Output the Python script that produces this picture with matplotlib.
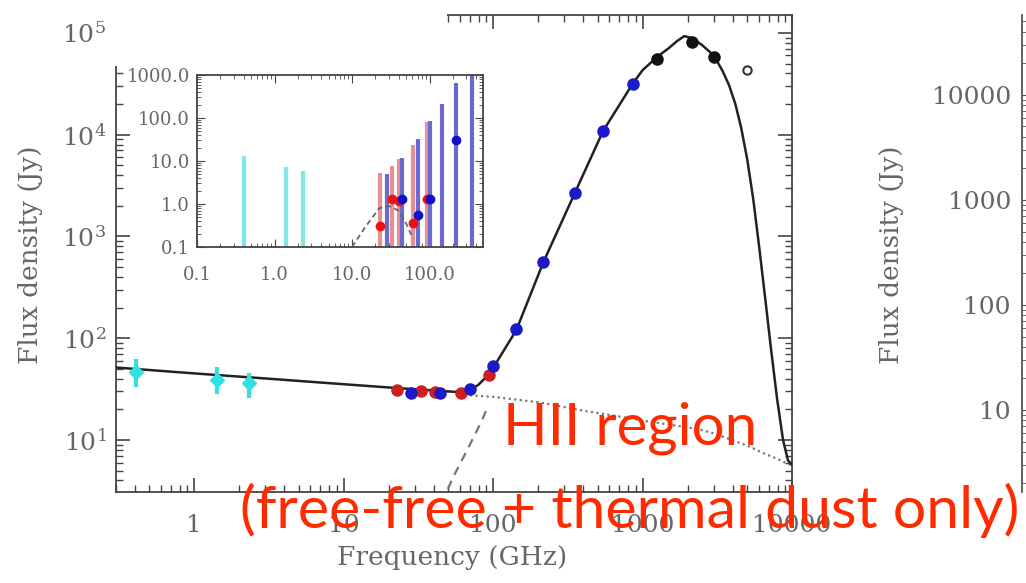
import matplotlib
matplotlib.use("Agg")
import matplotlib.pyplot as plt
from matplotlib.patches import Rectangle
from matplotlib.ticker import NullFormatter, LogLocator, FixedLocator, FixedFormatter

plt.rcParams['mathtext.fontset'] = 'dejavuserif'

# ---------------- data ----------------
# main panel: measured flux densities
cyan_freq = [0.408, 1.42, 2.326]
cyan_flux = [47, 39, 36]
cyan_err_lo = [14, 11, 10]
cyan_err_hi = [16, 13, 10]

wmap_freq = [22.8, 33.0, 40.6, 60.8, 93.5]
wmap_flux = [31.0, 30.6, 29.5, 28.8, 43.0]

planck_freq = [28.4, 44.1, 70.4, 100, 143, 217, 353, 545, 857]
planck_flux = [28.8, 28.8, 31.6, 53, 122, 558, 2690, 10900, 31500]

dirbe_freq = [1249, 2141, 2998]
dirbe_flux = [56000, 81000, 57600]

iras_freq = [4997]
iras_flux = [43500]

# main panel: model curves
model_freq = [0.3, 1, 3, 10, 20, 30, 45, 60, 70, 80, 93.5, 100, 143, 217, 353,
              545, 857, 1000, 1250, 1500, 1700, 1900, 2150, 2500, 3000, 3440,
              3800, 4170, 4570, 5010, 5500, 6030, 6610, 7240, 7940, 8710, 9400,
              10000]
model_flux = [51.5, 45.1, 40.2, 35.3, 32.8, 31.5, 30.3, 29.5, 30.5, 35, 44, 51,
              120, 558, 2690, 10900, 31500, 43000, 58000, 71000, 83000, 93000,
              89000, 76000, 60000, 42000, 30400, 20200, 11700, 5780, 2350, 790,
              250, 78, 25.6, 10.0, 6.3, 5.7]

ff_freq = [70, 100, 200, 437, 700, 1000, 2000, 2440, 3000, 5000, 6460, 8000, 10000]
ff_flux = [27.5, 26.5, 23.5, 19.0, 17.0, 15.5, 13.3, 12.6, 11.6, 8.8, 7.4, 6.5, 5.6]

dust_freq = [45, 49, 54, 70, 84.5, 93]
dust_flux = [2.4, 3.1, 4.3, 9.0, 15.7, 22]

# inset: residual-type bars
inset_cyan_freq = [0.408, 1.42, 2.326]
inset_cyan_top = [13.3, 7.1, 5.9]

inset_red_freq = [22.8, 33.0, 40.6, 60.8, 93.5]
inset_red_top = [5.4, 7.8, 11.0, 23.8, 80]
inset_red_pt = [0.30, 1.28, 1.20, 0.36, 1.28]

inset_blue_freq = [28.4, 44.1, 70.4, 100, 143, 217, 353]
inset_blue_top = [4.9, 11.5, 33, 83, 210, 650, 1200]
inset_blue_pt = [None, 1.28, 0.56, 1.28, None, 30, None]

inset_dash_freq = [10, 15, 22.5, 30, 40, 50, 60]
inset_dash_flux = [0.1, 0.3, 0.8, 0.9, 0.7, 0.35, 0.17]

main_xticks = [1, 10, 100, 1000, 10000]
main_xticklabels = ['1', '10', '100', '1000', '10000']
inset_xticks = [0.1, 1, 10, 100]
inset_xticklabels = ['0.1', '1.0', '10.0', '100.0']
inset_yticks = [0.1, 1, 10, 100, 1000]
inset_yticklabels = ['0.1', '1.0', '10.0', '100.0', '1000.0']
right_yticks = [10, 100, 1000, 10000]
right_yticklabels = ['10', '100', '1000', '10000']

# ---------------- figure ----------------
W, H = 1026, 583
fig = plt.figure(figsize=(W / 100, H / 100), dpi=100)


def box(l, t, r, b):
    return [l / W, 1 - b / H, (r - l) / W, (b - t) / H]


label_font = dict(family='DejaVu Serif', size=19, color='#666666')

# ---- main axes
ax = fig.add_axes(box(116, 15, 792, 492))
ax.set_xscale('log')
ax.set_yscale('log')
ax.set_xlim(0.3, 1e4)
ax.set_ylim(3.08, 1.5e5)
for s in ax.spines.values():
    s.set_color('#444444')
    s.set_linewidth(1.3)
ax.tick_params(which='both', direction='in', top=True, right=True, colors='#444444')
ax.tick_params(which='major', length=10, width=1.2, labelsize=18, labelcolor='#666666')
ax.tick_params(which='minor', length=5, width=1.0)
ax.tick_params(axis='x', which='major', pad=16)
ax.tick_params(axis='y', which='major', pad=7)
ax.xaxis.set_major_locator(FixedLocator(main_xticks))
ax.xaxis.set_major_formatter(FixedFormatter(main_xticklabels))
ax.xaxis.set_minor_formatter(NullFormatter())
ax.yaxis.set_major_locator(LogLocator(base=10, numticks=10))
ax.yaxis.set_minor_locator(LogLocator(base=10, subs=range(2, 10), numticks=10))
ax.yaxis.set_minor_formatter(NullFormatter())
for lab in ax.get_xticklabels() + ax.get_yticklabels():
    lab.set_family('DejaVu Serif')

ax.plot(model_freq, model_flux, color='#222222', lw=1.8, zorder=3)
ax.plot(ff_freq, ff_flux, color='#777777', lw=1.6, ls=(0, (1, 1.5)), zorder=2)
ax.plot(dust_freq, dust_flux, color='#777777', lw=1.6, ls=(0, (4, 3)), zorder=2)

ax.errorbar(cyan_freq, cyan_flux, yerr=[cyan_err_lo, cyan_err_hi], fmt='D',
            color='#33e0e0', ms=7, elinewidth=3, capsize=0, zorder=4)
ax.plot(wmap_freq, wmap_flux, 'o', color='#cc2020', ms=8, zorder=5)
ax.plot(planck_freq, planck_flux, 'o', color='#1a1ac8', ms=8, zorder=5)
ax.plot(dirbe_freq, dirbe_flux, 'o', color='#111111', ms=8, zorder=5)
ax.plot(iras_freq, iras_flux, 'o', mfc='none', mec='#333333', mew=1.5, ms=6, zorder=5)

fig.text(452 / W, 1 - 558 / H, 'Frequency (GHz)', ha='center', va='center', **label_font)
fig.text(31 / W, 1 - 255 / H, 'Flux density (Jy)', ha='center', va='center',
         rotation=90, **label_font)

# white cover over the top-left of the main panel
fig.patches.append(Rectangle((110 / W, 1 - 66 / H), (447 - 110) / W, 66 / H,
                             transform=fig.transFigure, facecolor='white',
                             edgecolor='none', zorder=1))

# ---- inset axes
ia = fig.add_axes(box(197, 75, 483, 247), zorder=2)
ia.set_xscale('log')
ia.set_yscale('log')
ia.set_xlim(0.1, 490)
ia.set_ylim(0.1, 1000)
for s in ia.spines.values():
    s.set_color('#444444')
    s.set_linewidth(1.3)
ia.tick_params(which='both', direction='in', top=True, right=True, colors='#444444')
ia.tick_params(which='major', length=6, labelsize=13, labelcolor='#666666', pad=5)
ia.tick_params(which='minor', length=3)
ia.xaxis.set_major_locator(FixedLocator(inset_xticks))
ia.xaxis.set_major_formatter(FixedFormatter(inset_xticklabels))
ia.yaxis.set_major_locator(FixedLocator(inset_yticks))
ia.yaxis.set_major_formatter(FixedFormatter(inset_yticklabels))
ia.xaxis.set_minor_formatter(NullFormatter())
ia.yaxis.set_minor_formatter(NullFormatter())
ia.tick_params(axis='x', which='major', pad=14)
for lab in ia.get_xticklabels() + ia.get_yticklabels():
    lab.set_family('DejaVu Serif')

ia.vlines(inset_cyan_freq, 0.1, inset_cyan_top, color='#7ee8e8', lw=3)
ia.vlines(inset_red_freq, 0.1, inset_red_top, color='#e89090', lw=3)
ia.vlines(inset_blue_freq, 0.1, inset_blue_top, color='#6a6ad0', lw=3)
ia.plot(inset_dash_freq, inset_dash_flux, color='#666666', lw=1.3, ls=(0, (3, 2)))
ia.plot(inset_red_freq, inset_red_pt, 'o', color='#ee1010', ms=6)
bf = [f for f, p in zip(inset_blue_freq, inset_blue_pt) if p is not None]
bp = [p for p in inset_blue_pt if p is not None]
ia.plot(bf, bp, 'o', color='#1010cc', ms=6)

# ---- partially visible right-hand panel
ra = fig.add_axes(box(1022, 15, 1300, 492))
ra.set_yscale('log')
ra.set_xlim(0, 1)
ra.set_ylim(10 ** 0.22, 10 ** 4.76)
ra.set_xticks([])
for k in ('top', 'bottom', 'right'):
    ra.spines[k].set_visible(False)
ra.spines['left'].set_color('#555555')
ra.spines['left'].set_linewidth(1.3)
ra.tick_params(which='both', direction='in', colors='#555555')
ra.tick_params(which='major', length=10, labelsize=18, labelcolor='#666666', pad=8)
ra.tick_params(which='minor', length=5)
ra.yaxis.set_major_locator(FixedLocator(right_yticks))
ra.yaxis.set_major_formatter(FixedFormatter(right_yticklabels))
ra.yaxis.set_minor_locator(LogLocator(base=10, subs=range(2, 10), numticks=10))
ra.yaxis.set_minor_formatter(NullFormatter())
for lab in ra.get_yticklabels():
    lab.set_family('DejaVu Serif')
fig.text(892 / W, 1 - 255 / H, 'Flux density (Jy)', ha='center', va='center',
         rotation=90, **label_font)

# ---- red overlay text
red = '#ff2a00'
fig.text(630 / W, 1 - 428 / H, 'HII region', ha='center', va='center',
         family='Lato', size=42, color=red, zorder=10)
fig.text(630 / W, 1 - 510 / H, '(free-free + thermal dust only)', ha='center',
         va='center', family='Lato', size=42.6, color=red, zorder=10)

fig.savefig('out.png', dpi=100)
